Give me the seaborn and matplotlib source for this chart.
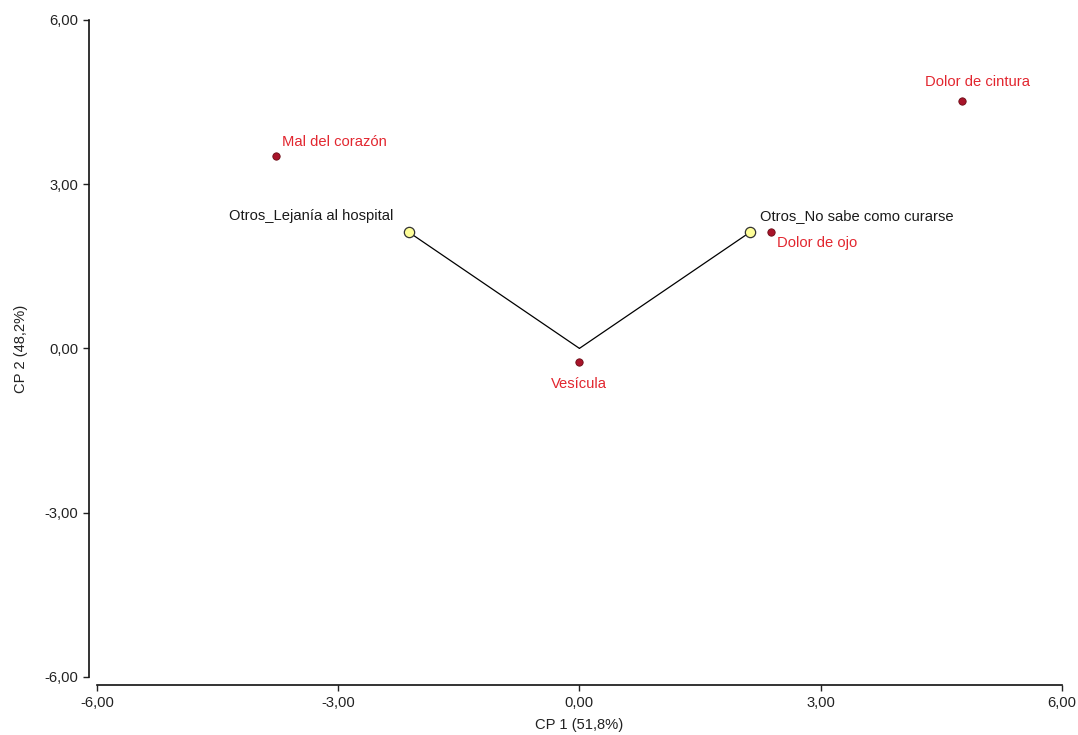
import matplotlib
matplotlib.use("Agg")
import matplotlib.pyplot as plt
import seaborn as sns
import pandas as pd
from matplotlib.ticker import FuncFormatter

# --- data ---
names = ["Mal del corazón", "Otros_Lejanía al hospital", "Otros_No sabe como curarse",
         "Dolor de ojo", "Vesícula", "Dolor de cintura"]
cp1 = [-3.78, -2.12, 2.12, 2.38, 0.00, 4.76]
cp2 = [3.52, 2.12, 2.12, 2.12, -0.24, 4.52]
kind = ["obs", "var", "var", "obs", "obs", "obs"]
# label offsets (points) and alignment
lab_dx = [5, -11, 7, 4.5, 0, -26.5]
lab_dy = [10, 11.5, 11.5, -8, -16.5, 13.5]
lab_ha = ["left", "right", "left", "left", "center", "left"]
ticks = [-6, -3, 0, 3, 6]

df = pd.DataFrame({"name": names, "CP1": cp1, "CP2": cp2, "kind": kind})

sns.set_style("ticks")
plt.rcParams["font.family"] = ["Liberation Sans", "DejaVu Sans"]

fig = plt.figure(figsize=(10.78, 7.35), dpi=100)
ax = fig.add_axes([0.09, 0.079, 0.895, 0.894])

# biplot vectors from origin to variables
for _, r in df[df.kind == "var"].iterrows():
    ax.plot([0, r.CP1], [0, r.CP2], color="black", lw=0.9, zorder=1)

obs = df[df.kind == "obs"]
var = df[df.kind == "var"]
sns.scatterplot(data=obs, x="CP1", y="CP2", ax=ax, color="#a8142a",
                edgecolor="#6a0a14", linewidth=0.6, s=28, marker="o", zorder=3, legend=False)
sns.scatterplot(data=var, x="CP1", y="CP2", ax=ax, color="#ffff99",
                edgecolor="#333333", linewidth=0.9, s=55, marker="o", zorder=3, legend=False)

for i, r in df.iterrows():
    col = "#e2262f" if r.kind == "obs" else "#1a1a1a"
    ax.annotate(r["name"], (r.CP1, r.CP2), xytext=(lab_dx[i], lab_dy[i]),
                textcoords="offset points", ha=lab_ha[i], va="center",
                fontsize=10.6, color=col)

ax.set_xlim(-6, 6)
ax.set_ylim(-6, 6)
ax.set_xticks(ticks)
ax.set_yticks(ticks)
fmt = FuncFormatter(lambda v, p: f"{v:.2f}".replace(".", ","))
ax.xaxis.set_major_formatter(fmt)
ax.yaxis.set_major_formatter(fmt)
ax.tick_params(labelsize=10.6, colors="#222222", length=4, width=1.0, direction="out")
sns.despine(ax=ax, offset=6, trim=True)
for s in ["left", "bottom"]:
    ax.spines[s].set_linewidth(1.2)
    ax.spines[s].set_color("#111111")

ax.set_xlabel("CP 1 (51,8%)", fontsize=10.6, color="#222222", labelpad=6)
ax.set_ylabel("CP 2 (48,2%)", fontsize=10.6, color="#222222", labelpad=12)

fig.savefig("out.png", dpi=100, facecolor="white")
